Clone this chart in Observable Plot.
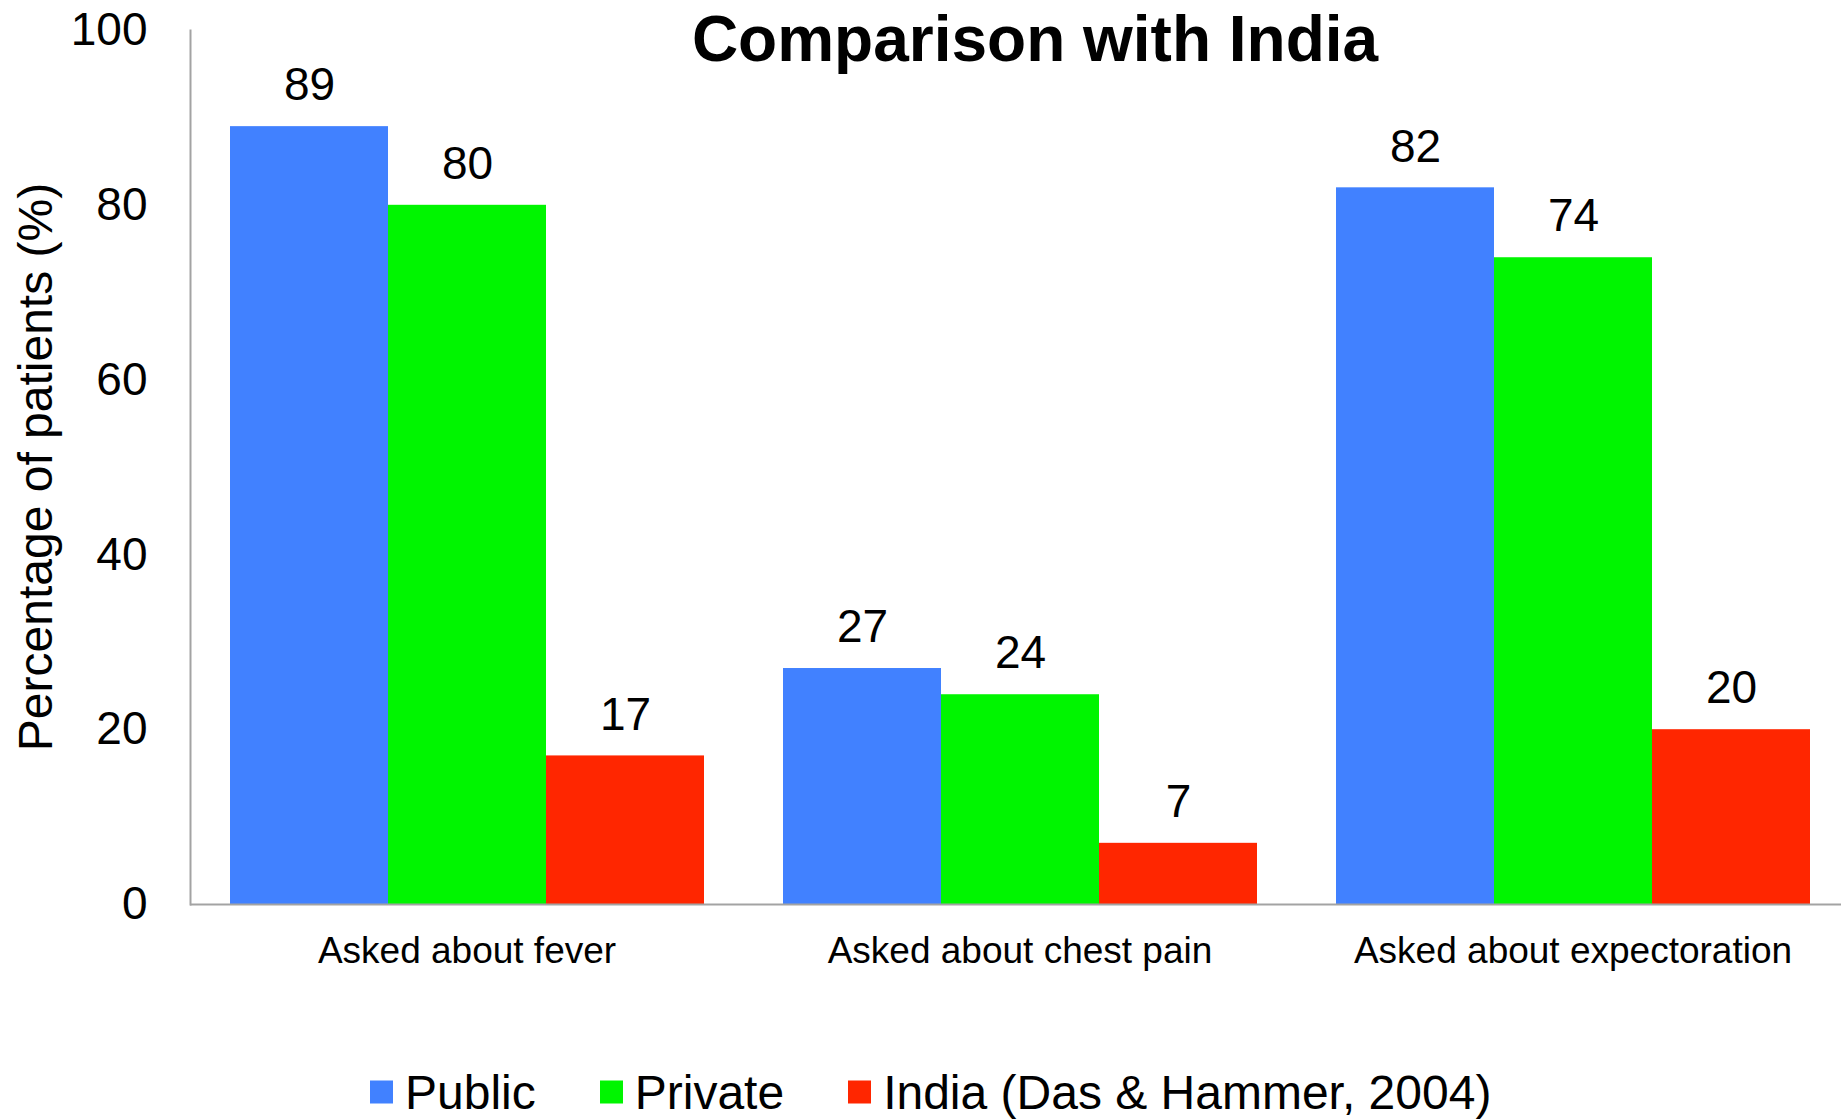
<!DOCTYPE html>
<html>
<head>
<meta charset="utf-8">
<script src="https://cdn.jsdelivr.net/npm/d3@7"></script>
<script src="https://cdn.jsdelivr.net/npm/@observablehq/plot@0.6"></script>
<style>
  html, body { margin: 0; padding: 0; background: #fff; }
  #wrap { position: relative; width: 1841px; height: 1120px; overflow: hidden; font-family: "Liberation Sans", Arial, sans-serif; color: #000; }
  #chart { position: absolute; left: 0; top: 0; }
  #title { position: absolute; top: 39px; left: 1035px; transform: translate(-50%, -50%);
           font-size: 64px; font-weight: bold; white-space: nowrap; }
  #ylabel { position: absolute; left: 35px; top: 467px; transform: translate(-50%, -50%) rotate(-90deg);
            font-size: 48px; white-space: nowrap; }
  #legend { position: absolute; left: 370px; top: 1092px; transform: translateY(-50%);
            display: flex; align-items: center; font-size: 48px; white-space: nowrap; }
  #legend .item { display: flex; align-items: center; margin-right: 64px; }
  #legend .sw { width: 23px; height: 23px; margin-right: 12px; }
</style>
</head>
<body>
<div id="wrap">
  <div id="chart"></div>
  <div id="title">Comparison with India</div>
  <div id="ylabel">Percentage of patients (%)</div>
  <div id="legend"></div>
</div>
<script>
// Question categories along the x axis
const categories = ["Asked about fever", "Asked about chest pain", "Asked about expectoration"];
// Series shown side by side within each category
const series = ["Public", "Private", "India (Das & Hammer, 2004)"];
const seriesColors = ["#4181ff", "#00f500", "#ff2600"];
// Percentage of patients per category, one list per series
const publicValues = [89, 27, 82];
const privateValues = [80, 24, 74];
const indiaValues = [17, 7, 20];
const yTicks = [0, 20, 40, 60, 80, 100];

const valuesBySeries = [publicValues, privateValues, indiaValues];
const rows = [];
categories.forEach((category, i) => {
  series.forEach((s, j) => rows.push({category, series: s, value: valuesBySeries[j][i]}));
});

const axisColor = "#a3a3a3";

const chart = Plot.plot({
  width: 1841,
  height: 1000,
  marginLeft: 190,
  marginRight: -8,
  marginTop: 30,
  marginBottom: 96,
  style: {fontFamily: "'Liberation Sans', Arial, sans-serif", background: "white", color: "#000", overflow: "hidden"},
  fx: {domain: categories, padding: 0, label: null},
  x: {domain: series, paddingInner: 0, paddingOuter: 0.25, axis: null},
  y: {domain: [0, 100], label: null},
  color: {domain: series, range: seriesColors},
  marks: [
    Plot.axisY({ticks: yTicks, tickSize: 0, tickPadding: 43, fontSize: 46, label: null}),
    Plot.axisFx({anchor: "bottom", tickSize: 0, tickPadding: 32, fontSize: 37, label: null}),
    Plot.barY(rows, {fx: "category", x: "series", y: "value", fill: "series"}),
    Plot.text(rows, {fx: "category", x: "series", y: "value", text: d => String(d.value),
                     dy: -41, fontSize: 46, fill: "#000"}),
    Plot.ruleY([0], {stroke: axisColor, strokeWidth: 2}),
    Plot.frame({anchor: "left", facetAnchor: "left", stroke: axisColor, strokeWidth: 2})
  ]
});
document.getElementById("chart").appendChild(chart);

// Legend built from the same series and colours
const legend = document.getElementById("legend");
series.forEach((s, j) => {
  const item = document.createElement("div");
  item.className = "item";
  const sw = document.createElement("span");
  sw.className = "sw";
  sw.style.background = seriesColors[j];
  const label = document.createElement("span");
  label.textContent = s;
  item.appendChild(sw);
  item.appendChild(label);
  legend.appendChild(item);
});
</script>
</body>
</html>
